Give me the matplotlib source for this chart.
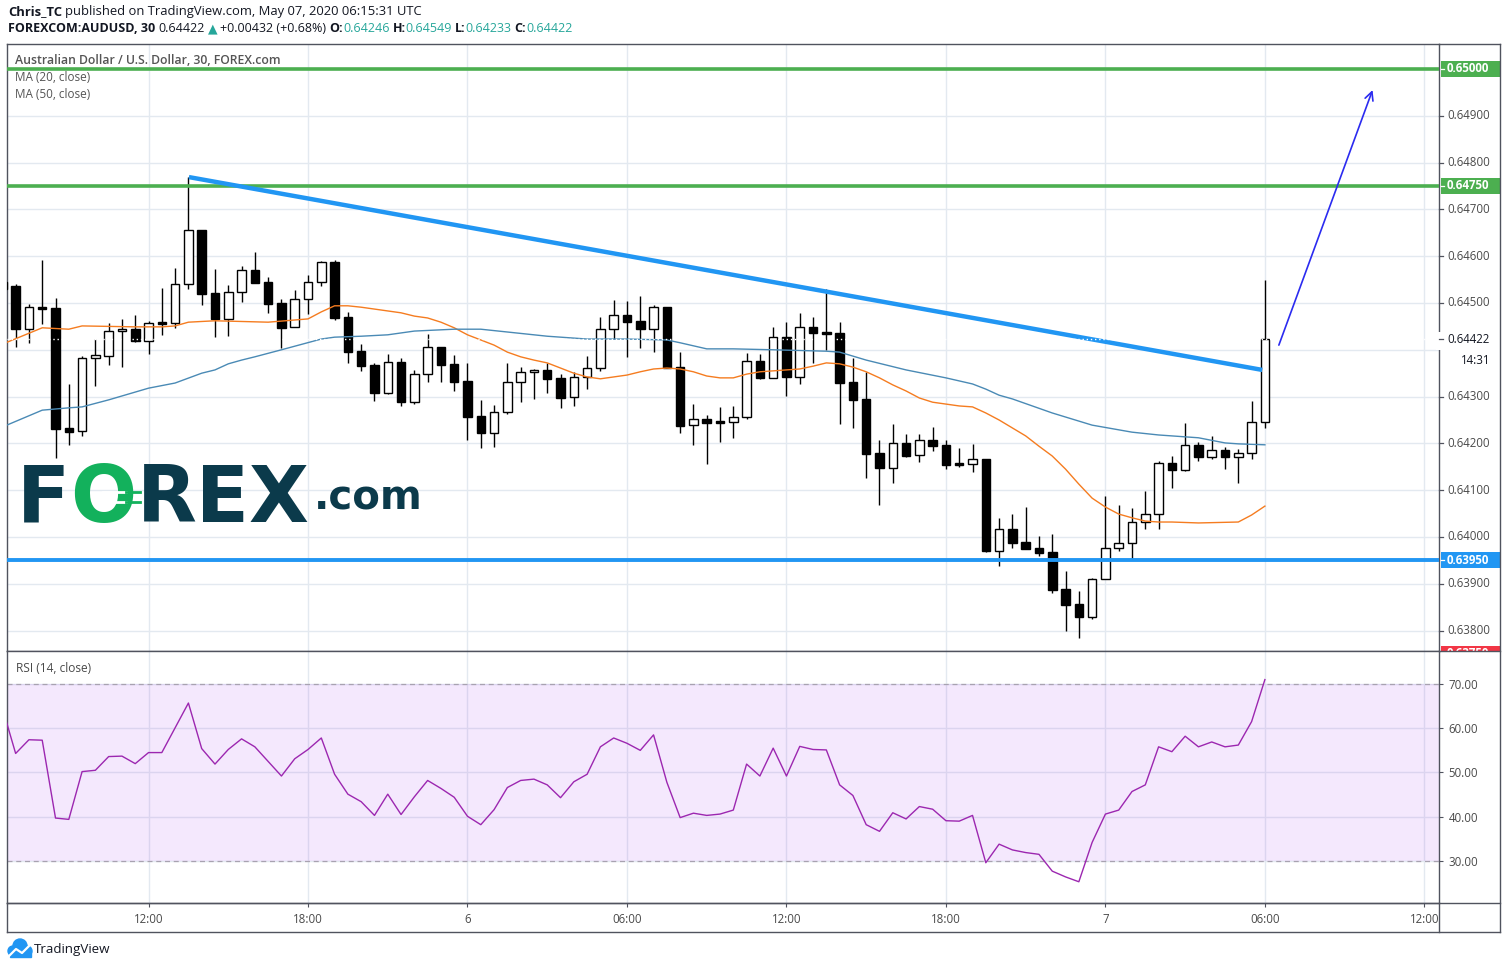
#!/usr/bin/env python3
"""
AUD/USD 30-minute chart, TradingView style: candles with MA(20)/MA(50),
a falling trendline, support/resistance levels and an RSI(14) pane.
Writes out.png.
"""
import matplotlib
matplotlib.use("Agg")
import matplotlib.pyplot as plt
import numpy as np
from matplotlib.lines import Line2D
from matplotlib.patches import Rectangle, Circle
from matplotlib.transforms import IdentityTransform

# candle 0 = May 5 06:30 UTC, one candle per 30 min, candle 95 = May 7 06:00
opens = [0.64545, 0.64536, 0.64444, 0.64490, 0.64489, 0.64233, 0.64226, 0.64382, 0.64387, 0.64440,
         0.64444, 0.64419, 0.64458, 0.64457, 0.64541, 0.64656, 0.64521, 0.64466, 0.64524, 0.64571,
         0.64545, 0.64500, 0.64449, 0.64509, 0.64545, 0.64588, 0.64470, 0.64397, 0.64368, 0.64308,
         0.64374, 0.64288, 0.64348, 0.64406, 0.64370, 0.64333, 0.64259, 0.64222, 0.64267, 0.64331,
         0.64353, 0.64357, 0.64340, 0.64299, 0.64342, 0.64361, 0.64444, 0.64474, 0.64462, 0.64444,
         0.64491, 0.64363, 0.64239, 0.64252, 0.64248, 0.64246, 0.64256, 0.64376, 0.64340, 0.64427,
         0.64342, 0.64449, 0.64438, 0.64436, 0.64331, 0.64295, 0.64179, 0.64147, 0.64201, 0.64175,
         0.64207, 0.64197, 0.64156, 0.64156, 0.64167, 0.63970, 0.64017, 0.63989, 0.63976, 0.63968,
         0.63889, 0.63857, 0.63829, 0.63910, 0.63976, 0.63987, 0.64032, 0.64049, 0.64158, 0.64143,
         0.64197, 0.64171, 0.64186, 0.64171, 0.64179, 0.64246]
highs = [0.64560, 0.64540, 0.64498, 0.64592, 0.64511, 0.64327, 0.64387, 0.64423, 0.64457, 0.64466,
         0.64474, 0.64462, 0.64532, 0.64575, 0.64769, 0.64656, 0.64573, 0.64538, 0.64579, 0.64609,
         0.64556, 0.64509, 0.64528, 0.64560, 0.64590, 0.64592, 0.64481, 0.64412, 0.64372, 0.64391,
         0.64382, 0.64357, 0.64434, 0.64406, 0.64389, 0.64372, 0.64293, 0.64282, 0.64372, 0.64363,
         0.64359, 0.64372, 0.64348, 0.64353, 0.64387, 0.64470, 0.64506, 0.64504, 0.64515, 0.64496,
         0.64491, 0.64395, 0.64284, 0.64261, 0.64278, 0.64280, 0.64393, 0.64391, 0.64449, 0.64459,
         0.64479, 0.64470, 0.64530, 0.64459, 0.64382, 0.64353, 0.64207, 0.64241, 0.64220, 0.64220,
         0.64235, 0.64207, 0.64190, 0.64199, 0.64167, 0.64041, 0.64049, 0.64064, 0.64002, 0.64006,
         0.63927, 0.63885, 0.63912, 0.64088, 0.64068, 0.64062, 0.64098, 0.64162, 0.64173, 0.64244,
         0.64203, 0.64216, 0.64192, 0.64188, 0.64291, 0.64549]
lows = [0.64510, 0.64406, 0.64415, 0.64455, 0.64169, 0.64197, 0.64216, 0.64323, 0.64368, 0.64363,
        0.64417, 0.64391, 0.64432, 0.64447, 0.64530, 0.64496, 0.64427, 0.64429, 0.64502, 0.64543,
        0.64479, 0.64404, 0.64449, 0.64476, 0.64536, 0.64464, 0.64372, 0.64355, 0.64291, 0.64306,
        0.64280, 0.64284, 0.64331, 0.64331, 0.64312, 0.64207, 0.64190, 0.64192, 0.64263, 0.64289,
        0.64295, 0.64308, 0.64276, 0.64280, 0.64316, 0.64355, 0.64423, 0.64385, 0.64404, 0.64395,
        0.64361, 0.64222, 0.64197, 0.64156, 0.64203, 0.64212, 0.64252, 0.64338, 0.64340, 0.64301,
        0.64327, 0.64372, 0.64400, 0.64241, 0.64233, 0.64126, 0.64068, 0.64115, 0.64171, 0.64160,
        0.64184, 0.64145, 0.64150, 0.64139, 0.63968, 0.63938, 0.63976, 0.63974, 0.63959, 0.63880,
        0.63799, 0.63784, 0.63825, 0.63910, 0.63970, 0.63953, 0.64017, 0.64017, 0.64105, 0.64141,
        0.64162, 0.64167, 0.64145, 0.64115, 0.64167, 0.64233]
closes = [0.64530, 0.64444, 0.64491, 0.64488, 0.64231, 0.64224, 0.64382, 0.64389, 0.64440, 0.64444,
          0.64419, 0.64457, 0.64457, 0.64541, 0.64656, 0.64519, 0.64466, 0.64524, 0.64571, 0.64543,
          0.64498, 0.64447, 0.64509, 0.64545, 0.64588, 0.64468, 0.64395, 0.64365, 0.64308, 0.64374,
          0.64288, 0.64348, 0.64406, 0.64368, 0.64331, 0.64256, 0.64222, 0.64267, 0.64331, 0.64353,
          0.64357, 0.64338, 0.64297, 0.64342, 0.64361, 0.64444, 0.64474, 0.64459, 0.64444, 0.64491,
          0.64361, 0.64237, 0.64252, 0.64244, 0.64244, 0.64256, 0.64376, 0.64340, 0.64427, 0.64342,
          0.64449, 0.64436, 0.64434, 0.64329, 0.64293, 0.64177, 0.64147, 0.64201, 0.64173, 0.64207,
          0.64194, 0.64154, 0.64156, 0.64167, 0.63970, 0.64017, 0.63987, 0.63974, 0.63966, 0.63887,
          0.63855, 0.63829, 0.63910, 0.63976, 0.63987, 0.64032, 0.64049, 0.64158, 0.64143, 0.64197,
          0.64171, 0.64186, 0.64171, 0.64179, 0.64246, 0.64422]

ma20_idx = [0, 3, 5, 6, 10, 12, 13, 14, 16, 20, 23, 24, 25, 26, 27, 28, 30, 31, 32, 33, 34, 35, 36,
            37, 38, 39, 40, 41, 42, 43, 44, 45, 46, 47, 48, 49, 50, 51, 52, 53, 54, 55, 56, 57, 58,
            59, 60, 61, 62, 63, 64, 65, 66, 67, 68, 69, 70, 71, 72, 73, 74, 75, 76, 77, 78, 79, 80,
            81, 82, 83, 84, 85, 86, 87, 88, 90, 93, 94, 95]
ma20 = [0.64412, 0.64447, 0.64444, 0.64451, 0.64449, 0.64449, 0.64451, 0.64459, 0.64462, 0.64459,
        0.64466, 0.64481, 0.64494, 0.64494, 0.64491, 0.64487, 0.64479, 0.64472, 0.64468, 0.64459,
        0.64447, 0.64432, 0.64421, 0.64410, 0.64395, 0.64385, 0.64378, 0.64372, 0.64361, 0.64350,
        0.64342, 0.64338, 0.64342, 0.64346, 0.64353, 0.64359, 0.64361, 0.64359, 0.64353, 0.64344,
        0.64340, 0.64340, 0.64348, 0.64353, 0.64355, 0.64357, 0.64359, 0.64365, 0.64372, 0.64370,
        0.64363, 0.64353, 0.64340, 0.64325, 0.64312, 0.64297, 0.64288, 0.64284, 0.64280, 0.64278,
        0.64265, 0.64250, 0.64233, 0.64216, 0.64194, 0.64173, 0.64145, 0.64113, 0.64083, 0.64064,
        0.64049, 0.64041, 0.64034, 0.64032, 0.64032, 0.64030, 0.64032, 0.64047, 0.64066]

ma50_idx = [0, 3, 5, 6, 8, 11, 13, 15, 16, 17, 18, 19, 21, 24, 25, 27, 29, 31, 34, 36, 38, 41, 44,
            47, 50, 51, 53, 55, 58, 62, 63, 65, 68, 71, 73, 74, 75, 76, 79, 82, 85, 87, 90, 92, 93, 95]
ma50 = [0.64235, 0.64271, 0.64276, 0.64278, 0.64293, 0.64318, 0.64329, 0.64350, 0.64357, 0.64370,
        0.64378, 0.64385, 0.64400, 0.64423, 0.64427, 0.64429, 0.64432, 0.64440, 0.64444, 0.64444,
        0.64438, 0.64429, 0.64423, 0.64423, 0.64421, 0.64415, 0.64402, 0.64402, 0.64400, 0.64397,
        0.64395, 0.64378, 0.64357, 0.64340, 0.64327, 0.64316, 0.64303, 0.64295, 0.64265, 0.64239,
        0.64224, 0.64218, 0.64212, 0.64201, 0.64199, 0.64197]

rsi = [64.6, 54.3, 57.4, 57.3, 39.7, 39.4, 50.2, 50.5, 53.6, 53.7,
       52.0, 54.5, 54.5, 60.1, 65.7, 55.4, 51.9, 55.2, 57.6, 55.8,
       52.5, 49.2, 53.1, 55.2, 57.8, 49.6, 45.1, 43.4, 40.3, 45.1,
       40.5, 44.5, 48.2, 46.4, 44.4, 40.1, 38.2, 41.6, 46.6, 48.2,
       48.5, 47.2, 44.3, 47.9, 49.6, 55.8, 57.8, 56.6, 55.0, 58.5,
       47.8, 39.8, 40.8, 40.3, 40.6, 41.5, 51.9, 49.2, 55.5, 49.2,
       55.9, 55.2, 55.1, 47.2, 44.8, 38.2, 36.7, 40.9, 39.5, 42.3,
       41.7, 39.1, 39.0, 40.3, 29.6, 33.8, 32.5, 31.9, 31.5, 27.7,
       26.4, 25.3, 34.2, 40.6, 41.5, 45.7, 47.2, 55.8, 54.7, 58.2,
       55.8, 56.9, 55.8, 56.2, 61.5, 71.0]

trend_idx = [14.04, 94.8]
trend_px = [0.64769, 0.64357]
arrow_idx = [96.05, 103.1]
arrow_px = [0.64410, 0.64955]

green_levels = [0.65000, 0.64750]
blue_levels = [0.63950]
red_levels = [0.63750]
last_price = 0.64422
countdown = "14:31"

time_ticks = [11, 23, 35, 47, 59, 71, 83, 95, 107]
time_labels = ["12:00", "18:00", "6", "06:00", "12:00", "18:00", "7", "06:00", "12:00"]
price_grid = [0.638, 0.639, 0.640, 0.641, 0.642, 0.643, 0.644, 0.645, 0.646, 0.647, 0.648, 0.649, 0.650]
price_labels = [0.649, 0.648, 0.647, 0.646, 0.645, 0.643, 0.642, 0.641, 0.640, 0.639, 0.638]
rsi_ticks = [30, 40, 50, 60, 70]

FONT = ["Open Sans", "DejaVu Sans"]
FRAME = "#50535e"
TXT = "#4a4a4a"
GRID = "#e3e9f0"
TEAL = "#26a69a"

W, H = 1507, 969
fig = plt.figure(figsize=(W / 100, H / 100), dpi=100)
fig.patch.set_facecolor("white")


def fbox(x0, y0, x1, y1):
    """pixel box (top-left origin) -> figure rect"""
    return [x0 / W, 1 - y1 / H, (x1 - x0) / W, (y1 - y0) / H]


ax = fig.add_axes(fbox(7, 44, 1439, 651))
ax_r = fig.add_axes(fbox(7, 651, 1439, 903), sharex=ax)
ax_ps = fig.add_axes(fbox(1439, 44, 1500, 651), sharey=ax)

for a in (ax, ax_r):
    for sp in a.spines.values():
        sp.set_color(FRAME)
        sp.set_linewidth(1.0)
    a.set_axisbelow(True)

ax.set_xlim(0.35, 108.1)
ax.set_ylim(0.637564, 0.650534)
ax.set_xticks(time_ticks)
ax.set_yticks(price_grid)
ax.grid(True, color=GRID, lw=1.0)
ax.tick_params(length=0, labelbottom=False, labelleft=False)

# candles
idx = np.arange(len(opens))
o, h, l, c = (np.array(v) for v in (opens, highs, lows, closes))
up = c > o
body_h = np.maximum(np.abs(c - o), 0.00003)
body_bot = (o + c) / 2 - body_h / 2
ax.vlines(idx, l, h, color="black", lw=1.0, zorder=3)
ax.bar(idx, body_h, bottom=body_bot, width=0.64, color=np.where(up, "white", "black"),
       edgecolor="black", linewidth=1.0, zorder=4)

ax.plot(ma20_idx, ma20, color="#f57c20", lw=1.0, zorder=5)
ax.plot(ma50_idx, ma50, color="#4a8ab5", lw=1.0, zorder=5)

for p in green_levels:
    ax.axhline(p, color="#4caf50", lw=2.6, zorder=6)
for p in blue_levels:
    ax.axhline(p, color="#2196f3", lw=2.8, zorder=6)
ax.plot(trend_idx, trend_px, color="#2196f3", lw=3.2, solid_capstyle="butt", zorder=6)
ax.axhline(last_price, color="white", lw=1.0, ls=(0, (1, 2)), zorder=7)
ax.annotate("", xy=(arrow_idx[1], arrow_px[1]), xytext=(arrow_idx[0], arrow_px[0]),
            arrowprops=dict(arrowstyle="->,head_length=0.6,head_width=0.3", color="#2b2bf0",
                            lw=1.2, shrinkA=0, shrinkB=0), zorder=7)

# RSI pane
ax_r.set_ylim(20.5, 77.46)
ax_r.axhspan(30, 70, color=(155 / 255, 47 / 255, 238 / 255, 0.11), lw=0, zorder=1)
for v in (70, 30):
    ax_r.axhline(v, color="#a8a2b0", lw=0.9, ls=(0, (4, 3)), zorder=2)
ax_r.plot(idx, rsi, color="#9c27b0", lw=1.0, zorder=3)
ax_r.set_yticks(rsi_ticks)
ax_r.set_yticklabels([f"{v:.2f}" for v in rsi_ticks])
ax_r.yaxis.tick_right()
ax_r.grid(True, color=GRID, lw=1.0)
ax_r.set_xticks(time_ticks)
ax_r.set_xticklabels(time_labels)
ax_r.tick_params(axis="both", direction="out", length=3, color=FRAME, labelcolor=TXT,
                 labelsize=8.3, pad=4)
for t in ax_r.get_xticklabels() + ax_r.get_yticklabels():
    t.set_family(FONT)
ax_r.text(0.006, 0.93, "RSI (14, close)", transform=ax_r.transAxes, fontsize=8.6,
          color=TXT, family=FONT, va="center")

# price scale
ax_ps.axis("off")
yt = ax_ps.get_yaxis_transform()
for p in price_labels:
    ax_ps.plot([0, 0.065], [p, p], color=FRAME, lw=0.9, transform=yt, clip_on=False)
    ax_ps.text(0.13, p, f"{p:.5f}", transform=yt, fontsize=8.3, color=TXT, family=FONT,
               va="center")
hh = 8 / 46800
for levels, col in ((green_levels, "#4caf50"), (blue_levels, "#2196f3"), (red_levels, "#f23645")):
    for p in levels:
        ax_ps.add_patch(Rectangle((0.03, p - hh), 0.97, 2 * hh, transform=yt, color=col, lw=0))
        ax_ps.plot([0.03, 0.09], [p, p], color="white", lw=0.9, transform=yt)
        ax_ps.text(0.13, p, f"{p:.5f}", transform=yt, fontsize=8.3, color="white",
                   fontweight="bold", family=FONT, va="center")
ax_ps.add_patch(Rectangle((-0.05, last_price - 11 / 46800), 1.0, 18 / 46800, transform=yt,
                          color="white", lw=0, clip_on=False, zorder=3))
ax_ps.plot([0, 0.065], [last_price, last_price], color=FRAME, lw=0.9, transform=yt,
           clip_on=False, zorder=4)
ax_ps.text(0.13, last_price, f"{last_price:.5f}", transform=yt, fontsize=8.3, color="#131722",
           family=FONT, va="center", zorder=4)
ax_ps.text(0.84, last_price - 21 / 46800, countdown, transform=yt, fontsize=8.3,
           color="#131722", family=FONT, va="center", ha="right", zorder=4)

# outer frame pieces outside the two panes
for xs, ys in (((1500, 1500), (44, 932)), ((1439, 1500), (44, 44)), ((1439, 1500), (651, 651)),
               ((7, 1500), (903, 903)), ((7, 1500), (932, 932)), ((7, 7), (903, 932)),
               ((1439, 1439), (903, 932))):
    fig.add_artist(Line2D(list(xs), [H - y for y in ys], transform=IdentityTransform(),
                          color=FRAME, lw=1.0))

renderer = fig.canvas.get_renderer()


def run_text(parent, x, y, pieces, family=FONT, va="center", zorder=3):
    for s, color, weight, size, gap in pieces:
        t = parent.text(x / W, 1 - y / H, s, transform=fig.transFigure, fontsize=size,
                        color=color, fontweight=weight, family=family, ha="left", va=va,
                        zorder=zorder)
        x += t.get_window_extent(renderer).width + gap
    return x


sp = 3.0
INK = "#131722"
run_text(fig, 8, 12, [("Chris_TC", INK, "bold", 9.4, sp),
                      ("published on TradingView.com, May 07, 2020 06:15:31 UTC", INK,
                       "normal", 9.4, 0)])
run_text(fig, 8, 29, [("FOREXCOM:AUDUSD, 30", INK, "bold", 9.0, sp),
                      ("0.64422", INK, "normal", 9.0, sp),
                      ("\u25b2", TEAL, "normal", 9.0, sp),
                      ("+0.00432 (+0.68%)", INK, "normal", 9.0, sp),
                      ("O:", INK, "bold", 9.0, 0), ("0.64246", TEAL, "normal", 9.0, sp),
                      ("H:", INK, "bold", 9.0, 0), ("0.64549", TEAL, "normal", 9.0, sp),
                      ("L:", INK, "bold", 9.0, 0), ("0.64233", TEAL, "normal", 9.0, sp),
                      ("C:", INK, "bold", 9.0, 0), ("0.64422", TEAL, "normal", 9.0, 0)])

ax.text(0.0055, 0.973, "Australian Dollar / U.S. Dollar, 30, FOREX.com", transform=ax.transAxes,
        fontsize=8.8, color="#555555", fontweight="semibold", family=FONT, va="center")
ax.text(0.0055, 0.945, "MA (20, close)", transform=ax.transAxes, fontsize=8.5, color="#555555",
        family=FONT, va="center")
ax.text(0.0055, 0.917, "MA (50, close)", transform=ax.transAxes, fontsize=8.5, color="#555555",
        family=FONT, va="center")

# FOREX.com watermark
LOGO = "#0b3a4b"
LGREEN = "#13b15c"
LF = "DejaVu Sans"
xl = run_text(ax, 17, 522, [("F", LOGO, "bold", 56, 0)], family=LF, va="baseline", zorder=1)
to = ax.text(xl / W, 1 - 522 / H, "O", transform=fig.transFigure, fontsize=56, color=LGREEN,
             fontweight="bold", family=LF, va="baseline", zorder=1)
ob = to.get_window_extent(renderer)
for yy in (0.60, 0.47):
    ybar = ob.y0 + (ob.y1 - ob.y0) * yy
    fig.add_artist(Line2D([ob.x0 + ob.width * 0.50, ob.x1 - ob.width * 0.16], [ybar, ybar],
                          transform=IdentityTransform(), color="white", lw=2.0))
    fig.add_artist(Line2D([ob.x1 - ob.width * 0.16, ob.x1 + ob.width * 0.06], [ybar, ybar],
                          transform=IdentityTransform(), color=LGREEN, lw=2.0))
xl = run_text(ax, ob.x1 + 1, 522, [("REX", LOGO, "bold", 56, 4)], family=LF, va="baseline",
              zorder=1)
run_text(ax, xl, 509, [(".com", LOGO, "bold", 29, 0)], family=LF, va="baseline", zorder=1)

# TradingView footer
cloud_col = "#2196f3"
for cx, cy, r in ((13, 951, 5), (20, 946, 7), (27, 951, 5)):
    fig.add_artist(Circle((cx, H - cy), r, transform=IdentityTransform(), color=cloud_col))
fig.add_artist(Rectangle((10, H - 957), 21, 6, transform=IdentityTransform(), color=cloud_col))
fig.add_artist(Line2D([9, 16, 22, 31], [H - 956, H - 949, H - 953, H - 944],
                      transform=IdentityTransform(), color="white", lw=1.6))
fig.text(34 / W, 1 - 950 / H, "TradingView", fontsize=9.6, color=INK, family=FONT,
         va="center")

fig.savefig("out.png", dpi=100, facecolor="white")
